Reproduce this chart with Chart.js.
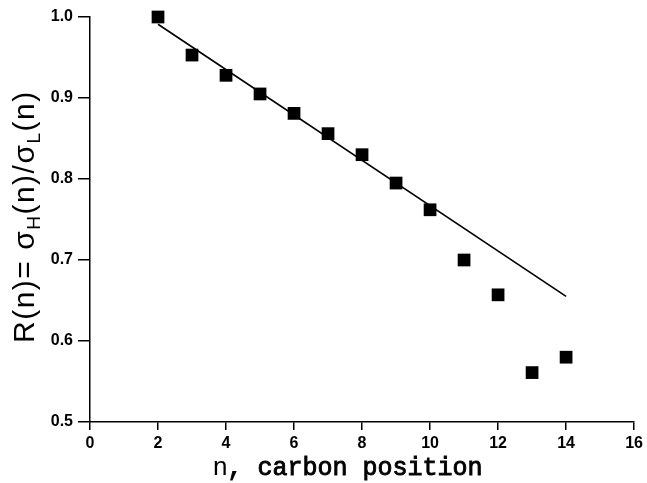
<!DOCTYPE html>
<html>
<head>
<meta charset="utf-8">
<script src="https://cdn.jsdelivr.net/npm/chart.js@4/dist/chart.umd.min.js"></script>
<style>
  html, body { margin: 0; padding: 0; background: #fff; }
  #wrap { width: 647px; height: 483px; }
</style>
</head>
<body>
<div id="wrap"><canvas id="chart"></canvas></div>
<script>
// ---- data ----
const carbonN = [2, 3, 4, 5, 6, 7, 8, 9, 10, 11, 12, 13, 14];
const ratioR = [1.000, 0.953, 0.928, 0.905, 0.881, 0.856, 0.830, 0.795, 0.762, 0.700, 0.657, 0.561, 0.580];

// straight fit line through the first points
const fitN = [2, 14];
const fitR = [0.991, 0.655];

const xTickValues = [0, 2, 4, 6, 8, 10, 12, 14, 16];
const yTickValues = [0.5, 0.6, 0.7, 0.8, 0.9, 1.0];

const xTitle = ', carbon position';
// y title pieces: [text, is subscript]
const yTitleParts = [['R(n)= σ', false], ['H', true], ['(n)/σ', false], ['L', true], ['(n)', false]];

// ---- axis titles (subscripts need manual drawing) ----
const titlePlugin = {
  id: 'axisTitles',
  afterDraw(chart) {
    const ctx = chart.ctx;
    ctx.save();
    ctx.fillStyle = '#000';
    ctx.strokeStyle = '#000';
    ctx.textAlign = 'left';
    ctx.textBaseline = 'alphabetic';

    // x title: sans "n" then typewriter text
    ctx.font = '26px "Liberation Sans"';
    ctx.fillText('n', 213, 475);
    const nW = ctx.measureText('n').width;
    ctx.font = '25px "Courier New", "Nimbus Mono PS", FreeMono, "Liberation Mono"';
    ctx.lineWidth = 0.9;
    ctx.fillText(xTitle, 213 + nW, 475);
    ctx.strokeText(xTitle, 213 + nW, 475);

    // y title, rotated
    ctx.translate(34, 343);
    ctx.rotate(-Math.PI / 2);
    ctx.letterSpacing = '1.5px';
    let pos = 0;
    yTitleParts.forEach(([txt, sub]) => {
      ctx.font = sub ? '19px "Liberation Sans"' : '30px "Liberation Sans"';
      ctx.fillText(txt, pos, sub ? 6 : 0);
      pos += ctx.measureText(txt).width;
    });
    ctx.restore();
  }
};

const ctx = document.getElementById('chart').getContext('2d');
new Chart(ctx, {
  type: 'scatter',
  data: {
    datasets: [
      {
        label: 'fit',
        data: fitN.map((n, i) => ({ x: n, y: fitR[i] })),
        showLine: true,
        borderColor: '#000',
        borderWidth: 1.6,
        pointRadius: 0,
        clip: false
      },
      {
        label: 'R(n)',
        data: carbonN.map((n, i) => ({ x: n, y: ratioR[i] })),
        pointStyle: 'rect',
        pointRadius: 9,
        backgroundColor: '#000',
        borderColor: '#000',
        borderWidth: 0,
        clip: false
      }
    ]
  },
  options: {
    responsive: true,
    maintainAspectRatio: false,
    animation: false,
    layout: { padding: { top: 17, right: 10, left: 0, bottom: 0 } },
    plugins: {
      legend: { display: false },
      tooltip: { enabled: false }
    },
    scales: {
      x: {
        type: 'linear',
        min: 0,
        max: 16,
        afterBuildTicks: (s) => { s.ticks = xTickValues.map(v => ({ value: v })); },
        afterFit: (s) => { s.height = 61; },
        grid: { drawOnChartArea: false, tickLength: 8, color: '#000', lineWidth: 1.5 },
        border: { color: '#000', width: 1.5 },
        ticks: {
          color: '#000',
          padding: 4,
          maxRotation: 0,
          font: { family: '"Liberation Sans"', size: 16, weight: 'bold' }
        }
      },
      y: {
        type: 'linear',
        min: 0.5,
        max: 1.0,
        afterBuildTicks: (s) => { s.ticks = yTickValues.map(v => ({ value: v })); },
        afterFit: (s) => { s.width = 90; },
        grid: { drawOnChartArea: false, tickLength: 12, color: '#000', lineWidth: 1.5 },
        border: { color: '#000', width: 1.5 },
        ticks: {
          color: '#000',
          padding: 5,
          font: { family: '"Liberation Sans"', size: 16, weight: 'bold' },
          callback: (v) => v.toFixed(1)
        }
      }
    }
  },
  plugins: [titlePlugin]
});
</script>
</body>
</html>
